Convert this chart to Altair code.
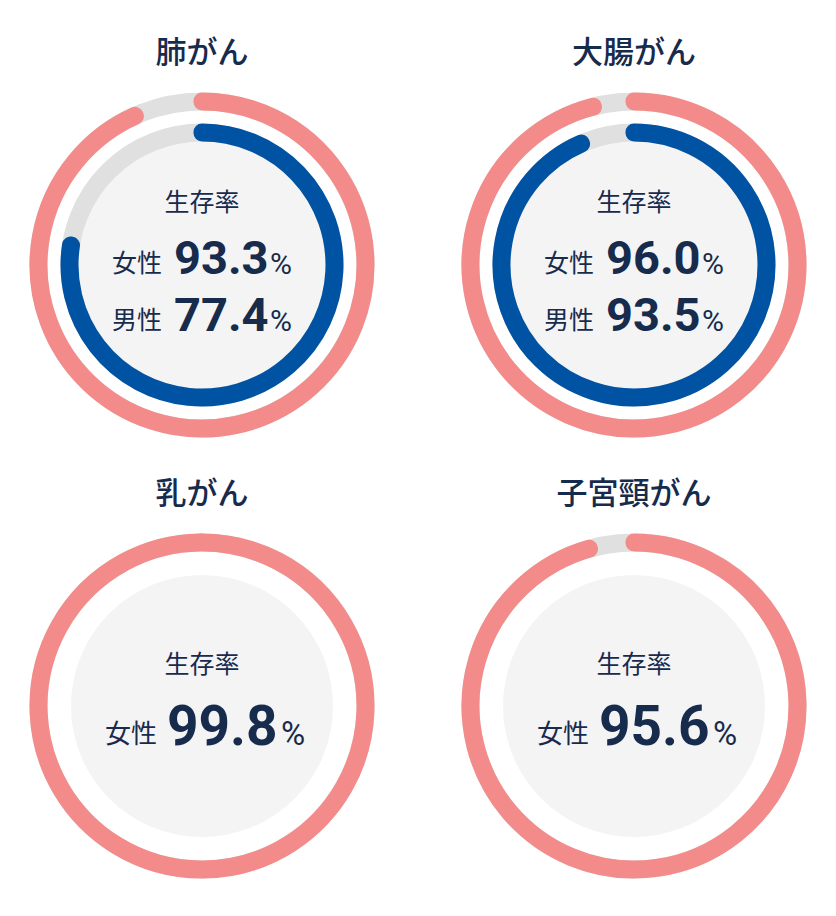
import altair as alt
import pandas as pd
import math

# ---- data ----
cancers = ["肺がん", "大腸がん", "乳がん", "子宮頸がん"]
female_rate = [93.3, 96.0, 99.8, 95.6]
male_rate = [77.4, 93.5, None, None]
label_rate = "生存率"
label_female = "女性"
label_male = "男性"
full_scale = 100

# ---- style ----
PINK = "#F38B8B"
BLUE = "#0052A3"
TRACK = "#E0E0E0"
CENTER = "#F4F4F5"
NAVY = "#172B4D"
JP = "Noto Sans CJK JP"
NUM = "Roboto"

theta_scale = alt.Scale(domain=[0, full_scale], range=[0, 2 * math.pi])


def ring(value, radius, color, width=17):
    df = pd.DataFrame({"start": [0.0], "end": [value]})
    return alt.Chart(df).mark_arc(
        radius=radius, radius2=radius - 1, fill=color, stroke=color,
        strokeWidth=width, strokeJoin="round"
    ).encode(theta=alt.Theta("start:Q", scale=theta_scale), theta2="end:Q")


def disc(radius, color):
    df = pd.DataFrame({"start": [0.0], "end": [full_scale]})
    return alt.Chart(df).mark_arc(radius=radius, fill=color).encode(
        theta=alt.Theta("start:Q", scale=theta_scale), theta2="end:Q"
    )


def txt(s, font, size, align, dx, dy, weight="normal"):
    df = pd.DataFrame({"t": [s]})
    return alt.Chart(df).mark_text(
        font=font, fontSize=size, fontWeight=weight, color=NAVY,
        align=align, baseline="alphabetic", dx=dx, dy=dy
    ).encode(text="t:N")


def panel(i):
    f = female_rate[i]
    m = male_rate[i]
    layers = []
    if m is not None:
        layers.append(disc(126, CENTER))
        layers.append(ring(full_scale, 164, TRACK))
        layers.append(ring(f, 164, PINK))
        layers.append(ring(full_scale, 133, TRACK))
        layers.append(ring(m, 133, BLUE))
        layers.append(txt(label_rate, JP, 25, "center", 0, -54))
        layers.append(txt(label_female, JP, 25, "right", -40, 7))
        layers.append(txt(f"{f:.1f}", NUM, 47, "left", -28, 9, "bold"))
        layers.append(txt("%", NUM, 30, "left", 68, 9))
        layers.append(txt(label_male, JP, 25, "right", -40, 64))
        layers.append(txt(f"{m:.1f}", NUM, 47, "left", -28, 66, "bold"))
        layers.append(txt("%", NUM, 30, "left", 68, 66))
    else:
        layers.append(disc(131, CENTER))
        layers.append(ring(full_scale, 164, TRACK))
        layers.append(ring(f, 164, PINK))
        layers.append(txt(label_rate, JP, 25, "center", 0, -33))
        layers.append(txt(label_female, JP, 26, "right", -45, 37))
        layers.append(txt(f"{f:.1f}", NUM, 55, "left", -35, 39, "bold"))
        layers.append(txt("%", NUM, 33, "left", 79, 39))
    return alt.layer(*layers).properties(
        width=388, height=360,
        title=alt.TitleParams(
            cancers[i], font=JP, fontSize=31, fontWeight=500, color=NAVY,
            anchor="middle", offset=15
        ),
    )


row1 = alt.hconcat(panel(0), panel(1), spacing=44)
row2 = alt.hconcat(panel(2), panel(3), spacing=44)
chart = alt.vconcat(row1, row2, spacing=34).properties(
    padding={"left": 0, "top": 30, "right": 0, "bottom": 0},
    background="white",
).configure_view(stroke=None)

chart.save("out.html", embed_options={"renderer": "svg", "actions": False})
